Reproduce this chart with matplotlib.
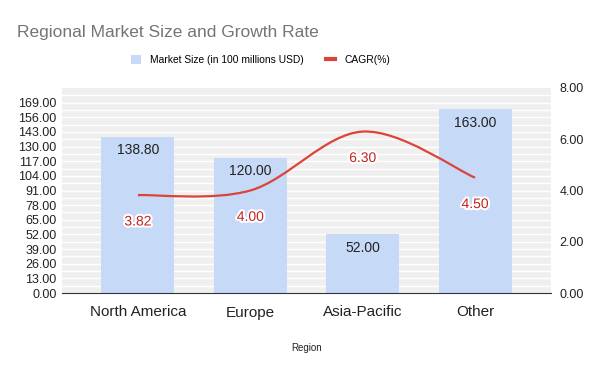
import matplotlib
matplotlib.use("Agg")
import matplotlib.pyplot as plt
from matplotlib.path import Path
from matplotlib.patches import PathPatch
from matplotlib.lines import Line2D
from matplotlib.patches import Patch
import matplotlib.patheffects as pe

# данные
regions = ["North America", "Europe", "Asia-Pacific", "Other"]
market_size = [138.80, 120.00, 52.00, 163.00]
cagr = [3.82, 4.00, 6.30, 4.50]
left_ticks = [0, 13, 26, 39, 52, 65, 78, 91, 104, 117, 130, 143, 156, 169]
right_ticks = [0, 2, 4, 6, 8]

bar_color = "#c6d9f7"
line_color = "#db4437"
plt.rcParams["font.family"] = ["Liberation Sans", "DejaVu Sans"]

fig = plt.figure(figsize=(6, 3.71), dpi=100)
fig.subplots_adjust(left=62/600, right=551/600, top=1-88/371, bottom=1-293/371)
ax = fig.add_subplot(111)
ax.set_facecolor("#efefef")

x = list(range(len(regions)))
bars = ax.bar(x, market_size, width=0.65, color=bar_color, zorder=2)
ax.set_xlim(-0.676, len(regions) - 1 + 0.676)
ax.set_ylim(0, 182)
ax.set_yticks(left_ticks)
ax.set_yticklabels([f"{v:.2f}" for v in left_ticks], fontsize=9, color="#222222")
ax.set_yticks([v + 6.5 for v in left_ticks], minor=True)
ax.grid(axis="y", which="both", color="white", linewidth=1, zorder=0)
ax.set_axisbelow(True)
ax.set_xticks(x)
ax.set_xticklabels(regions, fontsize=11, color="#222222")
ax.tick_params(axis="both", which="both", length=0)
ax.tick_params(axis="x", pad=9)
ax.tick_params(axis="y", pad=4)
for s in ["top", "right", "left"]:
    ax.spines[s].set_visible(False)
ax.spines["bottom"].set_color("#333333")
ax.set_xlabel("Region", fontsize=7, color="#222222", labelpad=17)

# подписи столбцов
for xi, v in zip(x, market_size):
    ax.annotate(f"{v:.2f}", (xi, v), xytext=(0, -9.5), textcoords="offset points",
                ha="center", va="center", fontsize=10, color="#222222", zorder=4)

# правая ось и сглаженная линия
ax2 = ax.twinx()
ax2.set_ylim(0, 8)
ax2.set_yticks(right_ticks)
ax2.set_yticklabels([f"{v:.2f}" for v in right_ticks], fontsize=9, color="#222222")
ax2.tick_params(length=0, pad=6)
for s in ax2.spines.values():
    s.set_visible(False)

pts = list(zip(x, cagr))
verts = [pts[0]]
codes = [Path.MOVETO]
n = len(pts)
for i in range(n - 1):
    p0 = pts[i - 1] if i > 0 else pts[i]
    p1 = pts[i]
    p2 = pts[i + 1]
    p3 = pts[i + 2] if i + 2 < n else pts[i + 1]
    c1 = (p1[0] + (p2[0] - p0[0]) / 6, p1[1] + (p2[1] - p0[1]) / 6)
    c2 = (p2[0] - (p3[0] - p1[0]) / 6, p2[1] - (p3[1] - p1[1]) / 6)
    verts += [c1, c2, p2]
    codes += [Path.CURVE4] * 3
ax2.add_patch(PathPatch(Path(verts, codes), facecolor="none", edgecolor=line_color,
                        linewidth=1.6, zorder=3))

for xi, v in zip(x, cagr):
    ax2.annotate(f"{v:.2f}", (xi, v), xytext=(0, -19), textcoords="offset points",
                 ha="center", va="center", fontsize=10, color="#c5221f",
                 path_effects=[pe.withStroke(linewidth=3, foreground="white")], zorder=5)

fig.text(17/600, 1-33/371, "Regional Market Size and Growth Rate", fontsize=12.5,
         color="#757575", va="center", ha="left")

handles = [Patch(facecolor=bar_color, edgecolor="none"),
           Line2D([0], [0], color=line_color, linewidth=3)]
fig.legend(handles, ["Market Size (in 100 millions USD)", "CAGR(%)"], loc="center",
           bbox_to_anchor=(261/600, 1-60/371), ncol=2, frameon=False, fontsize=7.4,
           handlelength=0.9, handleheight=0.9, columnspacing=2.2, handletextpad=0.9)

fig.savefig("out.png", dpi=100)
